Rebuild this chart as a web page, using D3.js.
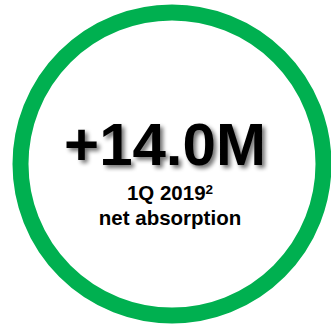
<!DOCTYPE html>
<html>
<head>
<meta charset="utf-8">
<script src="https://cdn.jsdelivr.net/npm/d3@7"></script>
<style>
  html, body { margin: 0; padding: 0; background: #fff; }
  svg { display: block; }
</style>
</head>
<body>
<svg id="chart" width="331" height="326"></svg>
<script>
// Headline metric shown inside the ring
const metricValue = [14.0];
const metricUnit = ["M"];
const captionLines = ["1Q 2019", "net absorption"];
const footnoteMark = ["2"];

const width = 331, height = 326;
const svg = d3.select("#chart");

const cx = 172, cy = 164;
const ringOuter = 159.5, ringWidth = 16;

// Green ring
svg.append("circle")
  .attr("cx", cx).attr("cy", cy)
  .attr("r", ringOuter - ringWidth / 2)
  .attr("fill", "none")
  .attr("stroke", "#00b050")
  .attr("stroke-width", ringWidth);

// Soft drop shadow for the headline figure
const defs = svg.append("defs");
const f = defs.append("filter").attr("id", "shadow")
  .attr("x", "-20%").attr("y", "-30%").attr("width", "140%").attr("height", "160%");
f.append("feGaussianBlur").attr("in", "SourceAlpha").attr("stdDeviation", 2).attr("result", "b");
f.append("feOffset").attr("in", "b").attr("dx", 3).attr("dy", 3).attr("result", "o");
f.append("feComponentTransfer").attr("in", "o").attr("result", "s")
  .append("feFuncA").attr("type", "linear").attr("slope", 0.55);
const m = f.append("feMerge");
m.append("feMergeNode").attr("in", "s");
m.append("feMergeNode").attr("in", "SourceGraphic");

const fmt = d3.format("+.1f");
const textX = 165;

svg.append("text")
  .attr("x", textX).attr("y", 165)
  .attr("text-anchor", "middle")
  .attr("font-family", "Liberation Sans, Arial, sans-serif")
  .attr("font-weight", "bold")
  .attr("font-size", 60)
  .attr("fill", "#000")
  .attr("filter", "url(#shadow)")
  .text(fmt(metricValue[0]) + metricUnit[0]);

const cap1 = svg.append("text")
  .attr("x", 170).attr("y", 200)
  .attr("text-anchor", "middle")
  .attr("font-family", "Liberation Sans, Arial, sans-serif")
  .attr("font-weight", "bold")
  .attr("font-size", 20.5)
  .attr("fill", "#000");
cap1.append("tspan").text(captionLines[0]);
cap1.append("tspan")
  .attr("font-size", 13.5)
  .attr("dy", -6)
  .text(footnoteMark[0]);

svg.append("text")
  .attr("x", 170).attr("y", 225)
  .attr("text-anchor", "middle")
  .attr("font-family", "Liberation Sans, Arial, sans-serif")
  .attr("font-weight", "bold")
  .attr("font-size", 20.5)
  .attr("fill", "#000")
  .text(captionLines[1]);
</script>
</body>
</html>
